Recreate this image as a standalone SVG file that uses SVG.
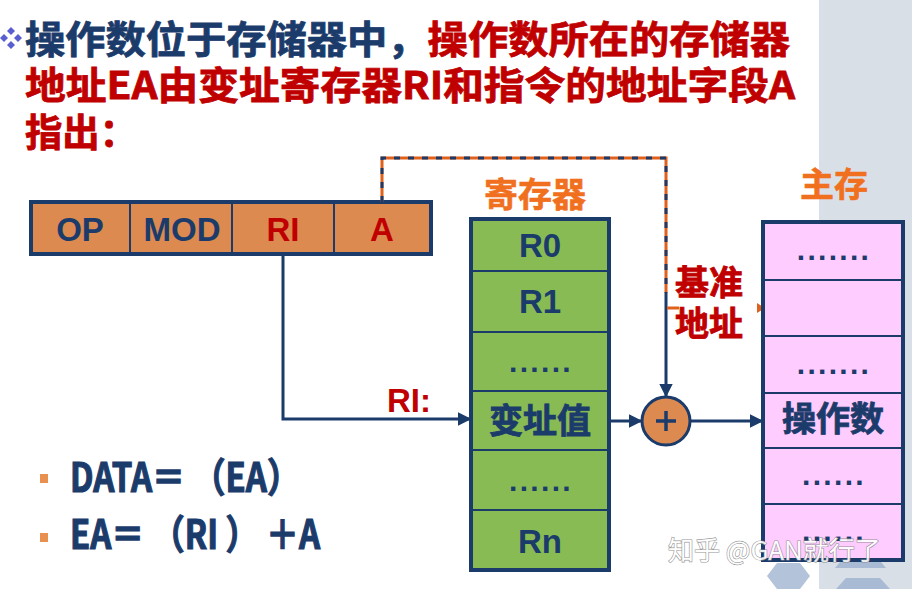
<svg xmlns="http://www.w3.org/2000/svg" width="912" height="589" viewBox="0 0 912 589">
<style>
.cjk{font-family:"Noto Sans CJK SC","Liberation Sans",sans-serif;font-weight:bold}
.lat{font-family:"Liberation Sans","Noto Sans CJK SC",sans-serif;font-weight:bold}
.navy{fill:#1B3B6B}
.red{fill:#C00000}
.org{fill:#F07020}
.hn{stroke:#1B3B6B;stroke-width:0.8}
.hr{stroke:#C00000;stroke-width:0.8}
.ho{stroke:#F07020;stroke-width:0.6}
.cell{stroke:#1B3B6B;stroke-width:2}
.box{fill:none;stroke:#1B3B6B;stroke-width:4}
.line{fill:none;stroke:#1B3B6B;stroke-width:3}
.dots{font-family:"Liberation Sans",sans-serif;font-weight:bold;font-size:30px;letter-spacing:2.3px;fill:#1B3B6B}
.pre{white-space:pre}
</style>
<defs>
<marker id="arr" viewBox="0 0 10 10" refX="9" refY="5" markerWidth="4.5" markerHeight="4.5" orient="auto" markerUnits="strokeWidth">
<path d="M0,0 L10,5 L0,10 z" fill="#1B3B6B"/>
</marker>
</defs>

<g id="background">
<rect x="0" y="0" width="912" height="589" fill="#FFFFFF"/>
<rect x="819" y="0" width="93" height="589" fill="#D9DFE7"/>
<polygon points="767,576 777,563 800,563 810,576 800,589 777,589" fill="#B3C3D9"/>
<polygon points="835,568 845,556 876,556 886,568" fill="#A9BBD4"/>
<polygon points="836,589 846,578 880,578 890,589" fill="#A9BBD4"/>
</g>

<g id="title">
<g fill="#5A5FD0">
<polygon points="11,27 15,31 11,35 7,31"/>
<polygon points="4,34 8,38 4,42 0,38"/>
<polygon points="18,34 22,38 18,42 14,38"/>
<polygon points="11,41 15,45 11,49 7,45"/>
</g>
<text class="cjk" x="25" y="53" font-size="38" textLength="765" lengthAdjust="spacingAndGlyphs"><tspan class="navy hn">操作数位于存储器中，</tspan><tspan class="red hr">操作数所在的存储器</tspan></text>
<text class="cjk red hr" x="25" y="99" font-size="38" textLength="770" lengthAdjust="spacingAndGlyphs">地址EA由变址寄存器RI和指令的地址字段A</text>
<text class="cjk red hr" x="25" y="146" font-size="38" textLength="112" lengthAdjust="spacingAndGlyphs">指出：</text>
</g>

<g id="instruction">
<rect x="31" y="202" width="400" height="52" fill="#DC8A50"/>
<line class="cell" x1="130" y1="202" x2="130" y2="254"/>
<line class="cell" x1="232" y1="202" x2="232" y2="254"/>
<line class="cell" x1="334" y1="202" x2="334" y2="254"/>
<rect x="31" y="202" width="400" height="52" class="box"/>
<text class="lat navy" x="80" y="241" font-size="33" text-anchor="middle">OP</text>
<text class="lat navy" x="182" y="241" font-size="33" text-anchor="middle">MOD</text>
<text class="lat red" x="283" y="241" font-size="33" text-anchor="middle">RI</text>
<text class="lat red" x="382" y="241" font-size="33" text-anchor="middle">A</text>
</g>

<g id="connectors">
<path d="M382,202 V158 H666 V293" fill="none" stroke="#E0611C" stroke-width="3"/>
<path d="M382,202 V158 H666 V293" fill="none" stroke="#1B3B6B" stroke-width="3" stroke-dasharray="6 8"/>
<path class="line" d="M666,293 V396" marker-end="url(#arr)"/>
<path class="line" d="M283,254 V419 H470" marker-end="url(#arr)"/>
<path class="line" d="M610,421 H641" marker-end="url(#arr)"/>
<path class="line" d="M690,421 H762" marker-end="url(#arr)"/>
<path d="M667,308 H679" stroke="#E0611C" stroke-width="3" fill="none"/>
<polygon points="757,303 765,308 757,313" fill="#E0611C"/>
</g>

<g id="registers">
<text class="cjk org ho" x="535" y="207" font-size="34" text-anchor="middle">寄存器</text>
<rect x="471" y="219" width="138" height="351" fill="#88BB53"/>
<g class="cell">
<line x1="471" y1="271" x2="609" y2="271"/>
<line x1="471" y1="332" x2="609" y2="332"/>
<line x1="471" y1="391" x2="609" y2="391"/>
<line x1="471" y1="450" x2="609" y2="450"/>
<line x1="471" y1="510" x2="609" y2="510"/>
</g>
<rect x="471" y="219" width="138" height="351" class="box"/>
<text class="lat navy" x="540" y="257" font-size="33" text-anchor="middle">R0</text>
<text class="lat navy" x="540" y="313" font-size="33" text-anchor="middle">R1</text>
<text class="dots" x="541" y="372" text-anchor="middle">......</text>
<text class="cjk navy hn" x="540" y="433" font-size="34" text-anchor="middle">变址值</text>
<text class="dots" x="541" y="491" text-anchor="middle">......</text>
<text class="lat navy" x="540" y="553" font-size="33" text-anchor="middle">Rn</text>
</g>

<g id="adder">
<circle cx="666" cy="421" r="24" fill="#DC8A50" stroke="#1B3B6B" stroke-width="3"/>
<path d="M656,421 H676 M666,411 V431" stroke="#1B3B6B" stroke-width="3.5" fill="none"/>
</g>

<g id="memory">
<text class="cjk org ho" x="834" y="197" font-size="34" text-anchor="middle">主存</text>
<rect x="763" y="222" width="140" height="338" fill="#FFCCFF"/>
<g class="cell">
<line x1="763" y1="280" x2="903" y2="280"/>
<line x1="763" y1="336" x2="903" y2="336"/>
<line x1="763" y1="393" x2="903" y2="393"/>
<line x1="763" y1="448" x2="903" y2="448"/>
<line x1="763" y1="504" x2="903" y2="504"/>
</g>
<rect x="763" y="222" width="140" height="338" class="box"/>
<text class="dots" x="834" y="260" text-anchor="middle">.......</text>
<text class="dots" x="834" y="374" text-anchor="middle">.......</text>
<text class="cjk navy hn" x="833" y="431" font-size="34" text-anchor="middle">操作数</text>
<text class="dots" x="834" y="485" text-anchor="middle">......</text>
<text class="dots" x="834" y="541" text-anchor="middle">......</text>
</g>

<g id="labels">
<text class="lat red" x="387" y="412" font-size="33">RI:</text>
<text class="cjk red hr" x="675" y="295" font-size="34">基准</text>
<text class="cjk red hr" x="675" y="336" font-size="34">地址</text>
</g>

<g id="formulas">
<rect x="40" y="474" width="8" height="9" fill="#E8904F"/>
<rect x="40" y="533" width="8" height="9" fill="#E8904F"/>
<text class="cjk navy pre" x="70" y="492" font-size="40" stroke="#1B3B6B" stroke-width="1.2" textLength="230" lengthAdjust="spacingAndGlyphs">DATA＝ （EA）</text>
<text class="cjk navy pre" x="70" y="549" font-size="40" stroke="#1B3B6B" stroke-width="1.2" textLength="250" lengthAdjust="spacingAndGlyphs">EA＝ （RI ） ＋A</text>
</g>

<g id="watermark">
<text class="pre" x="668" y="560" font-family="Noto Sans CJK SC, sans-serif" font-size="26" fill="#FFFFFF" stroke="#8A8A8A" stroke-width="1.2" paint-order="stroke" opacity="0.9">知乎 @GAN就行了</text>
</g>
</svg>
